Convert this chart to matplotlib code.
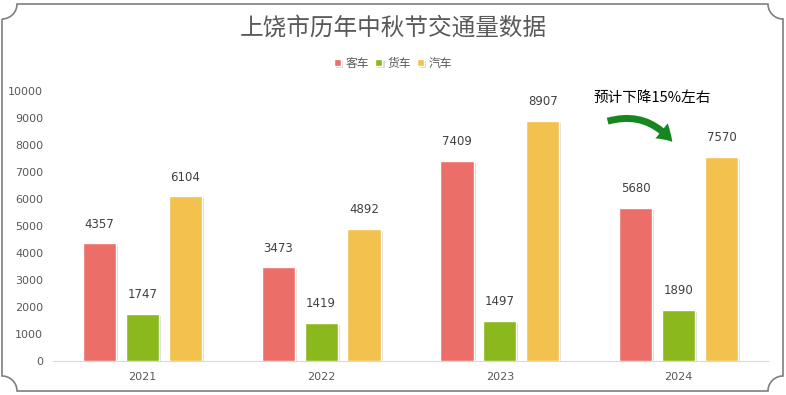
import numpy as np
import matplotlib
matplotlib.use("Agg")
import matplotlib.pyplot as plt
from matplotlib.path import Path
from matplotlib.patches import PathPatch
import matplotlib.patheffects as pe

plt.rcParams['font.family'] = ['Noto Sans CJK SC', 'DejaVu Sans']

title = "上饶市历年中秋节交通量数据"
years = ["2021", "2022", "2023", "2024"]
series_names = ["客车", "货车", "汽车"]
keche = [4357, 3473, 7409, 5680]
huoche = [1747, 1419, 1497, 1890]
qiche = [6104, 4892, 8907, 7570]
colors = ["#EB6F68", "#8AB81D", "#F2C14E"]
yticks = list(range(0, 10001, 1000))
note = "预计下降15%左右"

W, H = 786, 395
fig = plt.figure(figsize=(W / 100, H / 100), dpi=100)
ax = fig.add_axes([53 / W, 34 / H, 715 / W, 270 / H])

x = np.arange(len(years))
width = 0.185
offset = 0.24
txt = "#595959"
shadow = [pe.SimplePatchShadow(offset=(1.5, -1.5), shadow_rgbFace="#b0b0b0", alpha=0.45), pe.Normal()]
for i, (vals, c, name) in enumerate(zip([keche, huoche, qiche], colors, series_names)):
    bars = ax.bar(x + (i - 1) * offset, vals, width, color=c, edgecolor="white",
                  linewidth=1.0, label=name, zorder=3)
    for b in bars:
        b.set_path_effects(shadow)
    for xi, v in zip(x + (i - 1) * offset, vals):
        ax.annotate(f"{v}", (xi, v), xytext=(0, 9), textcoords="offset points",
                    ha="center", va="bottom", fontsize=8.5, color="#404040",
                    family=["DejaVu Sans"])

ax.set_xlim(-0.5, len(years) - 0.5)
ax.set_ylim(0, 10000)
ax.set_yticks(yticks)
ax.set_yticklabels([str(t) for t in yticks], fontsize=8, color=txt, family=["DejaVu Sans"])
ax.set_xticks(x)
ax.set_xticklabels(years, fontsize=8, color=txt, family=["DejaVu Sans"])
ax.tick_params(axis="both", length=0)
ax.tick_params(axis="y", pad=7)
ax.tick_params(axis="x", pad=8)
for s in ["top", "right", "left"]:
    ax.spines[s].set_visible(False)
ax.spines["bottom"].set_color("#d9d9d9")
ax.set_facecolor("none")

fig.text(393 / W, 1 - 28 / H, title, ha="center", va="center", fontsize=17, color=txt)
leg = fig.legend(loc="center", bbox_to_anchor=(393 / W, 1 - 63 / H), ncol=3, frameon=False,
                 fontsize=8.5, handlelength=0.6, handleheight=0.6, handletextpad=0.4,
                 columnspacing=0.5)
for t in leg.get_texts():
    t.set_color(txt)

fig.text(652 / W, 1 - 98 / H, note, ha="center", va="center", fontsize=10.5, color="black")
ax.annotate("", xy=(674, H - 144), xycoords="figure pixels",
            xytext=(605, H - 122), textcoords="figure pixels",
            arrowprops=dict(arrowstyle="simple,head_width=1.4,head_length=1.1,tail_width=0.5",
                            connectionstyle="arc3,rad=-0.35", color="#16861f", lw=0))

# decorative frame with concave corners
r = 15
x0, x1, y0, y1 = 2, 783, H - 391, H - 4
def arc(cx, cy, a0, a1):
    t = np.radians(np.linspace(a0, a1, 20))
    return list(zip(cx + r * np.cos(t), cy + r * np.sin(t)))
pts = []
pts += arc(x0, y1, -90, 0)            # top-left
pts += arc(x1, y1, 180, 270)          # top-right
pts += arc(x1, y0, 90, 180)           # bottom-right
pts += arc(x0, y0, 0, 90)             # bottom-left
pts.append(pts[0])
frame = PathPatch(Path(pts), transform=None, fill=False, edgecolor="#7f7f7f", lw=1.2)
fig.patches.append(frame)

fig.savefig("out.png", dpi=100)
